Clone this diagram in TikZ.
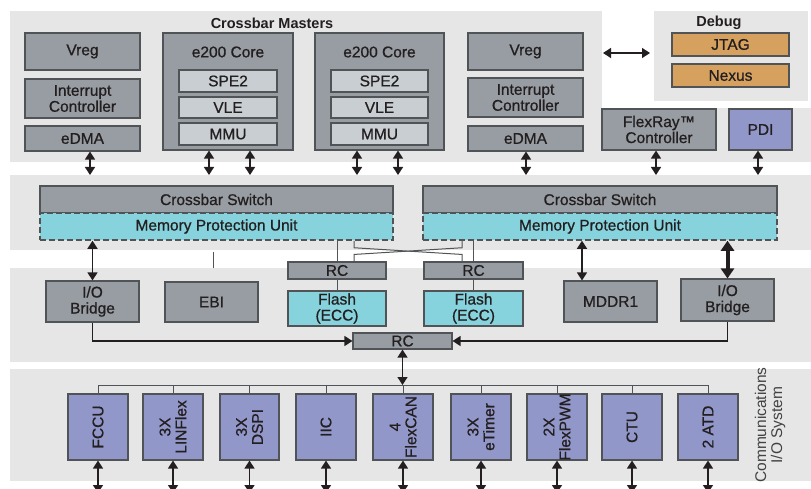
\documentclass[tikz,border=0pt]{standalone}
\usepackage{fontspec}
\setmainfont{Liberation Sans}
\newfontfamily\medfont{Liberation Sans}[FakeBold=0.8]
\usetikzlibrary{arrows.meta,calc}
\definecolor{panel}{HTML}{E6E6E6}
\definecolor{boxg}{HTML}{979DA2}
\definecolor{innerg}{HTML}{C9CED2}
\definecolor{cyanb}{HTML}{86D3DE}
\definecolor{purp}{HTML}{9297CA}
\definecolor{orng}{HTML}{D6A15F}
\definecolor{edgec}{HTML}{505457}
\definecolor{txt}{HTML}{231F20}
\newcommand\lbl{\medfont\fontsize{15.5}{16}\selectfont}
\newcommand\ttl{\fontsize{14.5}{16}\selectfont\bfseries}
\newcommand\mkbox[7]{\node[#6, minimum width={#4-#2}, minimum height={#5-#3}] (#1) at ({(#2+#4)/2},{(#3+#5)/2}) {#7};}
\tikzset{
  box/.style={draw=edgec, fill=boxg, line width=1.1pt, inner sep=0pt, align=center, font=\lbl, text=txt},
  inbox/.style={box, fill=innerg},
  cyanbox/.style={box, fill=cyanb},
  purpbox/.style={box, fill=purp},
  orbox/.style={box, fill=orng},
  mpubox/.style={box, fill=cyanb, dash pattern=on 6pt off 3pt, line width=1.5pt},
  thinline/.style={draw=edgec, line width=1pt},
  dar/.style={{Triangle[width=10pt,length=8pt]}-{Triangle[width=10pt,length=8pt]}, line width=1.3pt, draw=txt},
  thickdar/.style={{Triangle[width=13pt,length=10pt]}-{Triangle[width=13pt,length=10pt]}, line width=4pt, draw=txt},
  sar/.style={-{Triangle[width=10pt,length=8pt]}, line width=1.3pt, draw=txt},
  titletext/.style={font=\ttl, text=txt, inner sep=0pt},
  rottext/.style={font=\lbl, text=txt, rotate=90, align=center, inner sep=0pt}
}
\begin{document}
\begin{tikzpicture}[x=1pt,y=-1pt]
\useasboundingbox (0,0) rectangle (811,489);
% panels
\fill[panel] (10,11) rectangle (602,162);
\fill[panel] (602,108) rectangle (811,162);
\fill[panel] (654,11) rectangle (808,101);
\fill[panel] (10,175) rectangle (811,250);
\fill[panel] (10,268) rectangle (811,362);
\fill[panel] (10,369) rectangle (811,481);
% titles
\node[titletext] (tmast) at (272,23) {Crossbar Masters};
\node[titletext] (tdbg) at (719,23) {Debug};
% masters
\mkbox{vregA}{25}{33}{140}{70}{box}{Vreg}
\mkbox{intA}{25}{79}{140}{118}{box}{Interrupt\\Controller}
\mkbox{edmaA}{25}{126}{140}{151}{box}{eDMA}
\mkbox{coreA}{163}{33}{293}{150}{box}{}
\node[font=\lbl, text=txt, inner sep=0pt] (coreAt) at (228,52) {e200 Core};
\mkbox{speA}{179}{70}{277}{92}{inbox}{SPE2}
\mkbox{vleA}{179}{97}{277}{118}{inbox}{VLE}
\mkbox{mmuA}{179}{123}{277}{145}{inbox}{MMU}
\mkbox{coreB}{315}{33}{444}{150}{box}{}
\node[font=\lbl, text=txt, inner sep=0pt] (coreBt) at (379.5,52) {e200 Core};
\mkbox{speB}{331}{70}{428}{92}{inbox}{SPE2}
\mkbox{vleB}{331}{97}{428}{118}{inbox}{VLE}
\mkbox{mmuB}{331}{123}{428}{145}{inbox}{MMU}
\mkbox{vregB}{468}{33}{583}{70}{box}{Vreg}
\mkbox{intB}{468}{78}{583}{117}{box}{Interrupt\\Controller}
\mkbox{edmaB}{468}{126}{583}{151}{box}{eDMA}
\mkbox{jtag}{672}{33}{789}{56}{orbox}{JTAG}
\mkbox{nexus}{672}{64}{789}{87}{orbox}{Nexus}
\mkbox{flexray}{602}{109}{716}{150}{box}{FlexRay™\\Controller}
\mkbox{pdi}{729}{109}{792}{150}{purpbox}{PDI}
% crossbar
\mkbox{xbarL}{40}{186}{393}{213}{box}{Crossbar Switch}
\mkbox{mpuL}{40}{213}{393}{240}{mpubox}{Memory Protection Unit}
\mkbox{xbarR}{423}{186}{777}{213}{box}{Crossbar Switch}
\mkbox{mpuR}{423}{213}{777}{240}{mpubox}{Memory Protection Unit}
% memory row
\mkbox{iobL}{46}{281}{139}{322}{box}{I/O\\Bridge}
\mkbox{ebi}{165}{282}{258}{322}{box}{EBI}
\mkbox{rcL}{288}{262}{386}{279}{box}{RC}
\mkbox{flL}{288}{291}{386}{326}{cyanbox}{Flash\\(ECC)}
\mkbox{rcR}{424}{262}{523}{279}{box}{RC}
\mkbox{flR}{424}{291}{523}{326}{cyanbox}{Flash\\(ECC)}
\mkbox{mddr}{564}{281}{657}{322}{box}{MDDR1}
\mkbox{iobR}{681}{279}{774}{321}{box}{I/O\\Bridge}
\mkbox{rcC}{353}{333}{452}{349}{box}{RC}
% I/O row
\mkbox{fccu}{68}{394}{128}{460}{purpbox}{}
\mkbox{lin}{143}{394}{203}{460}{purpbox}{}
\mkbox{dspi}{220}{394}{279}{460}{purpbox}{}
\mkbox{iic}{296}{394}{356}{460}{purpbox}{}
\mkbox{can}{373}{394}{433}{460}{purpbox}{}
\mkbox{etim}{451}{394}{511}{460}{purpbox}{}
\mkbox{pwm}{527}{394}{587}{460}{purpbox}{}
\mkbox{ctu}{602}{394}{662}{460}{purpbox}{}
\mkbox{atd}{678}{394}{738}{460}{purpbox}{}
\node[rottext] (fccut) at (fccu) {FCCU};
\node[rottext] (lint) at (lin) {3X\\LINFlex};
\node[rottext] (dspit) at (dspi) {3X\\DSPI};
\node[rottext] (iict) at (iic) {IIC};
\node[rottext] (cant) at (can) {4\\FlexCAN};
\node[rottext] (etimt) at (etim) {3X\\eTimer};
\node[rottext] (pwmt) at (pwm) {2X\\FlexPWM};
\node[rottext] (ctut) at (ctu) {CTU};
\node[rottext] (atdt) at (atd) {2 ATD};
\node[rottext, font=\fontsize{15.5}{16}\selectfont, text=txt!85] (comm) at (770,425) {Communications\\I/O System};
% coordinates
\coordinate (t1) at (90,175);
\coordinate (t2) at (209,175);
\coordinate (t3) at (250,175);
\coordinate (t4) at (357,175);
\coordinate (t5) at (398,175);
\coordinate (t6) at (526,175);
\coordinate (t7) at (656,175);
\coordinate (t8) at (758,175);
\coordinate (d1) at (603,53);
\coordinate (d2) at (650,53);
\coordinate (xm) at (582,0);
\coordinate (cxl) at (354,0);
\coordinate (cxr) at (462,0);
\coordinate (e1) at (213,252);
\coordinate (e2) at (213,268);
\coordinate (busy) at (0,385);
\coordinate (bot) at (0,493);
% top arrows
\draw[dar] (edmaA.south -| t1) -- (t1);
\draw[dar] (coreA.south -| t2) -- (t2);
\draw[dar] (coreA.south -| t3) -- (t3);
\draw[dar] (coreB.south -| t4) -- (t4);
\draw[dar] (coreB.south -| t5) -- (t5);
\draw[dar] (edmaB.south -| t6) -- (t6);
\draw[dar] (flexray.south -| t7) -- (t7);
\draw[dar] (pdi.south -| t8) -- (t8);
\draw[dar] (d1) -- (d2);
% crossbar to memory row
\draw[dar] (mpuL.south -| iobL.north) -- (iobL.north);
\draw[dar] (mpuR.south -| xm) -- (mddr.north -| xm);
\draw[thickdar] (mpuR.south -| iobR.north) -- (iobR.north);
\draw[thinline] (mpuL.south -| rcL.north) -- (rcL.north);
\draw[thinline] (mpuR.south -| rcR.north) -- (rcR.north);
\draw[thinline] (mpuL.south -| cxl) -- ++(0,7) -- ($(rcR.north -| cxr)+(0,-7)$) -- (rcR.north -| cxr);
\draw[thinline] (mpuR.south -| cxr) -- ++(0,7) -- ($(rcL.north -| cxl)+(0,-7)$) -- (rcL.north -| cxl);
\draw[thinline] (rcL.south) -- (flL.north);
\draw[thinline] (rcR.south) -- (flR.north);
\draw[thinline] (e1) -- (e2);
\draw[sar] (iobL.south) |- (rcC.west);
\draw[sar] (iobR.south) |- (rcC.east);
\draw[dar] (rcC.south) -- (rcC.south |- busy);
% bus
\draw[thinline] (fccu.north) -- (fccu.north |- busy) -- (atd.north |- busy) -- (atd.north);
\foreach \n in {lin,dspi,iic,can,etim,pwm,ctu} \draw[thinline] (\n.north) -- (\n.north |- busy);
\foreach \n in {fccu,lin,dspi,iic,can,etim,pwm,ctu,atd} \draw[dar] (\n.south) -- (\n.south |- bot);
\end{tikzpicture}
\end{document}
